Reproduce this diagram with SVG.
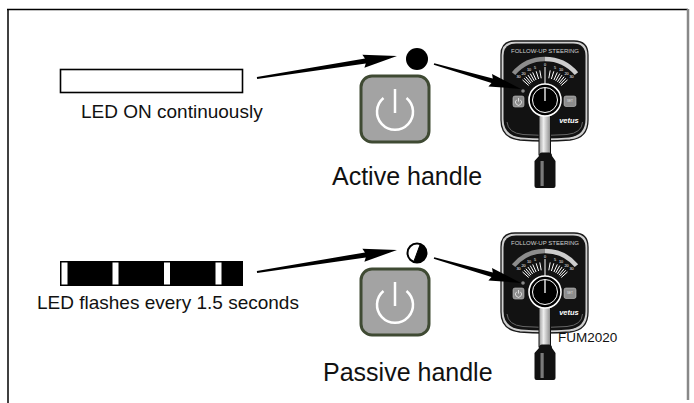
<svg xmlns="http://www.w3.org/2000/svg" xmlns:xlink="http://www.w3.org/1999/xlink" width="694" height="403" viewBox="0 0 694 403">
  <style>
    .lbl { font-family: "Liberation Sans", Arial, sans-serif; fill: #111; }
    .big { font-size: 25px; }
    .mid { font-size: 19px; }
    .arrow { fill: #000; }
    .btn { fill: #a3a3a3; stroke: #3f4a33; stroke-width: 3; }
    .pwr { fill: none; stroke: #fff; stroke-width: 2.5; stroke-linecap: butt; }
    .tick { stroke: #fff; stroke-width: 1; }
    .tiny { font-family: "Liberation Sans", Arial, sans-serif; fill: #fff; font-size: 3.8px; text-anchor: middle; }
  </style>
  <defs>
    <linearGradient id="barGrad" x1="0" y1="0" x2="1" y2="0">
      <stop offset="0" stop-color="#9a9a9a"/>
      <stop offset="0.4" stop-color="#eeeeee"/>
      <stop offset="1" stop-color="#8a8a8a"/>
    </linearGradient>
    <!-- steering control unit, drawn around its knob centre -->
    <g id="panel-art">
      <!-- housing -->
      <path d="M -30,-59 H 29 Q 43,-59 43,-45 V 20 Q 43,38 25,40 Q 0,42 -25,40 Q -44,38 -44,20 V -45 Q -44,-59 -30,-59 Z" fill="#d0d0d0" stroke="#1a1a1a" stroke-width="1.3"/>
      <path d="M -29,-56.5 H 28 Q 40.5,-56.5 40.5,-44 V 19 Q 40.5,35.5 24,37.5 Q 0,39.5 -24,37.5 Q -41.5,35.5 -41.5,19 V -44 Q -41.5,-56.5 -29,-56.5 Z" fill="#121212"/>
      <path d="M -38,22 Q -37,33 -22,34.5 Q 0,36.5 22,34.5 Q 37,33 37.5,22" fill="none" stroke="#666" stroke-width="1"/>
      <text x="0" y="-47" font-family="'Liberation Sans', Arial, sans-serif" font-size="6" fill="#cfcfcf" text-anchor="middle" textLength="68" lengthAdjust="spacingAndGlyphs">FOLLOW-UP STEERING</text>
      <!-- rudder scale -->
      <path d="M -31.4,-26.4 A 41 41 0 0 1 0,-41" fill="none" stroke="#8c8c8c" stroke-width="4.5"/>
      <path d="M 0,-41 A 41 41 0 0 1 31.4,-26.4" fill="none" stroke="#cdcdcd" stroke-width="4.5"/>
      <g class="tick">
        <line x1="0" y1="-33" x2="0" y2="-16"/>
        <line x1="-3.8" y1="-21.7" x2="-5.2" y2="-29.6"/>
        <line x1="-6.4" y1="-21" x2="-8.8" y2="-28.7"/>
        <line x1="-8.9" y1="-20" x2="-12.3" y2="-27.6"/>
        <line x1="-10.7" y1="-19.2" x2="-14.8" y2="-26.4"/>
        <line x1="-12.4" y1="-18.1" x2="-17.1" y2="-25"/>
        <line x1="-13.9" y1="-16.9" x2="-19.2" y2="-23.3"/>
        <line x1="-15.1" y1="-15.8" x2="-20.9" y2="-21.8"/>
        <line x1="-16.3" y1="-14.5" x2="-22.5" y2="-20.1"/>
        <line x1="3.8" y1="-21.7" x2="5.2" y2="-29.6"/>
        <line x1="6.4" y1="-21" x2="8.8" y2="-28.7"/>
        <line x1="8.9" y1="-20" x2="12.3" y2="-27.6"/>
        <line x1="10.7" y1="-19.2" x2="14.8" y2="-26.4"/>
        <line x1="12.4" y1="-18.1" x2="17.1" y2="-25"/>
        <line x1="13.9" y1="-16.9" x2="19.2" y2="-23.3"/>
        <line x1="15.1" y1="-15.8" x2="20.9" y2="-21.8"/>
        <line x1="16.3" y1="-14.5" x2="22.5" y2="-20.1"/>
      </g>
      <text class="tiny" x="0" y="-34.5">0</text>
      <text class="tiny" x="-10" y="-31">5</text>
      <text class="tiny" x="-16" y="-29">10</text>
      <text class="tiny" x="-21.5" y="-25.5">20</text>
      <text class="tiny" x="-26.5" y="-22">30</text>
      <text class="tiny" x="10" y="-31">5</text>
      <text class="tiny" x="16" y="-29">10</text>
      <text class="tiny" x="21.5" y="-25.5">20</text>
      <text class="tiny" x="26.5" y="-22">30</text>
      <!-- status LED and push buttons -->
      <circle cx="-22" cy="-9" r="1.8" fill="#8a8a8a"/>
      <rect x="-32" y="-4" width="11" height="11" rx="2" fill="#8c8c8c" stroke="#c4c4c4" stroke-width="0.6"/>
      <path d="M -28.3,-0.2 A 3 3 0 1 0 -24.7,-0.2" fill="none" stroke="#fff" stroke-width="0.7"/>
      <line x1="-26.5" y1="-2" x2="-26.5" y2="1.6" stroke="#fff" stroke-width="0.7"/>
      <rect x="19" y="-4" width="12" height="10.5" rx="2" fill="#8c8c8c" stroke="#c4c4c4" stroke-width="0.6"/>
      <text x="25" y="2.3" font-family="'Liberation Sans', Arial, sans-serif" font-size="3" fill="#e0e0e0" text-anchor="middle">SET</text>
      <!-- lever shaft, running out of the housing -->
      <rect x="-6" y="12" width="11.5" height="43" fill="url(#barGrad)" stroke="#111" stroke-width="1"/>
      <!-- knob -->
      <circle r="16" fill="#000" stroke="#fff" stroke-width="1.6"/>
      <circle r="12.5" fill="none" stroke="#fff" stroke-width="1"/>
      <line x1="0" y1="1" x2="0" y2="-12" stroke="#fff" stroke-width="1.3"/>
      <text x="24" y="22.5" font-family="'Liberation Sans', Arial, sans-serif" font-size="7.5" font-weight="bold" font-style="italic" fill="#fff" text-anchor="middle">vetus</text>
      <!-- lever grip -->
      <path d="M -6,56 Q -6,52.5 -3,52.5 H 4 Q 7,52.5 7,56 L 10.5,61 V 86 Q 10.5,88 8.5,88 H -8.5 Q -10.5,88 -10.5,86 V 61 Z" fill="#111"/>
      <rect x="-4.5" y="61" width="3.2" height="25" fill="#7a7a7a"/>
    </g>
    <g id="power-btn">
      <rect class="btn" x="-34" y="-36" width="68" height="66" rx="11"/>
      <path class="pwr" d="M -11.5,-14 A 18 18 0 1 0 11.5,-14"/>
      <line class="pwr" x1="0" y1="-23" x2="0" y2="1"/>
    </g>
  </defs>

  <!-- frame -->
  <g id="frame">
    <line x1="7" y1="9.5" x2="688" y2="9.5" stroke="#000" stroke-width="1.5"/>
    <line x1="8" y1="9" x2="8" y2="403" stroke="#000" stroke-width="1.5"/>
    <line x1="688" y1="9" x2="688" y2="400" stroke="#888" stroke-width="2.5"/>
  </g>

  <!-- active state -->
  <g id="led-on-bar">
    <rect x="60.5" y="69.5" width="182" height="23" fill="#fff" stroke="#000" stroke-width="1.6"/>
    <text class="lbl mid" x="81" y="118">LED ON continuously</text>
  </g>
  <g id="led-dot-on">
    <circle cx="417" cy="59" r="11" fill="#000"/>
  </g>
  <g id="power-active">
    <use xlink:href="#power-btn" transform="translate(395,112)"/>
  </g>
  <g id="label-active">
    <text class="lbl big" x="332" y="185">Active handle</text>
  </g>
  <g id="panel-active">
    <use xlink:href="#panel-art" transform="translate(545,100)"/>
  </g>

  <!-- passive state -->
  <g id="led-flash-bar">
    <rect x="60" y="261" width="183" height="25" fill="#000"/>
    <rect x="61.5" y="262.5" width="6" height="22" fill="#fff"/>
    <rect x="112.5" y="262.5" width="6" height="22" fill="#fff"/>
    <rect x="164" y="262.5" width="6" height="22" fill="#fff"/>
    <rect x="215.5" y="262.5" width="6" height="22" fill="#fff"/>
    <text class="lbl mid" x="37" y="309">LED flashes every 1.5 seconds</text>
  </g>
  <g id="led-dot-flash">
    <circle cx="417" cy="253" r="9.5" fill="#fff" stroke="#000" stroke-width="2"/>
    <path d="M 420.3,244.1 A 9.5 9.5 0 0 1 413.7,261.9 Z" fill="#000" stroke="#000" stroke-width="1"/>
  </g>
  <g id="power-passive">
    <use xlink:href="#power-btn" transform="translate(395,305)"/>
  </g>
  <g id="label-passive">
    <text class="lbl big" x="323" y="381">Passive handle</text>
  </g>
  <g id="panel-passive">
    <use xlink:href="#panel-art" transform="translate(545,292)"/>
    <text class="lbl" x="558" y="342" font-size="13.5">FUM2020</text>
  </g>

  <!-- connectors -->
  <g id="connectors">
    <polygon class="arrow" transform="translate(257,78) rotate(-8.93)" points="0,-1 109.7,-2.6 107.7,-6.5 141.7,0 107.7,6.5 109.7,2.6 0,1"/>
    <polygon class="arrow" transform="translate(434,64) rotate(16.03)" points="0,-0.9 60.5,-2.4 58.5,-6.5 90.5,0 58.5,6.5 60.5,2.4 0,0.9"/>
    <polygon class="arrow" transform="translate(257,272) rotate(-8.93)" points="0,-1 109.7,-2.6 107.7,-6.5 141.7,0 107.7,6.5 109.7,2.6 0,1"/>
    <polygon class="arrow" transform="translate(434,258) rotate(16.03)" points="0,-0.9 60.5,-2.4 58.5,-6.5 90.5,0 58.5,6.5 60.5,2.4 0,0.9"/>
  </g>
</svg>
